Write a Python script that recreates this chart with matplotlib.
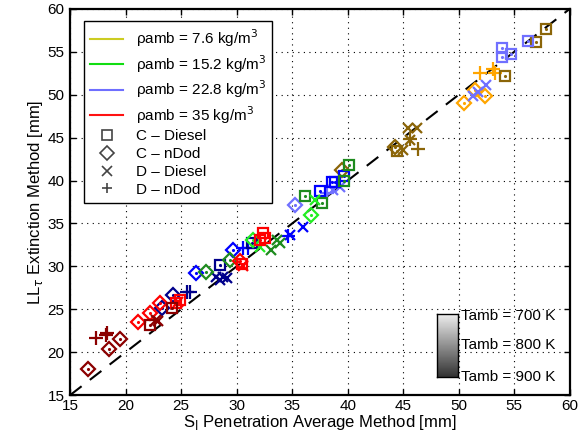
import numpy as np
import matplotlib
matplotlib.use('Agg')
import matplotlib.pyplot as plt
from matplotlib.lines import Line2D

plt.rcParams['font.family'] = ['Liberation Sans', 'DejaVu Sans']
plt.rcParams['font.size'] = 11

# each row: density, temperature, setup, x values (S_l), y values (LL_tau)
rho = [7.6, 7.6, 7.6, 7.6, 7.6, 7.6,
       22.8, 22.8, 22.8, 22.8, 22.8, 22.8, 22.8, 22.8, 22.8, 22.8, 22.8, 22.8,
       15.2, 15.2, 15.2, 15.2, 15.2,
       35, 35, 35, 35, 35, 35, 35]
tamb = [700, 700, 800, 800, 800, 800,
        700, 700, 700, 700, 800, 800, 800, 800, 900, 900, 900, 900,
        800, 700, 800, 700, 800,
        700, 700, 700, 900, 900, 900, 900]
setup = ['C-nDod', 'D-nDod', 'C-Diesel', 'C-nDod', 'D-Diesel', 'D-nDod',
         'C-Diesel', 'D-Diesel', 'D-nDod', 'C-nDod', 'C-Diesel', 'D-Diesel', 'D-nDod', 'C-nDod',
         'C-Diesel', 'D-Diesel', 'D-nDod', 'C-nDod',
         'C-Diesel', 'C-nDod', 'C-nDod', 'D-Diesel', 'D-Diesel',
         'C-Diesel', 'C-nDod', 'D-Diesel', 'C-Diesel', 'D-Diesel', 'C-nDod', 'D-nDod']
sl = [[50.5, 51.5, 52.4], [51.9, 53.1, 53.3], [54.2, 57.0, 57.9, 44.4], [44.3, 39.5],
      [45.4, 46.2, 45.0, 45.6], [45.6, 46.3],
      [53.9, 53.9, 54.7, 56.2], [51.3, 51.7, 52.5, 38.7, 39.3], [38.1], [35.3],
      [39.7, 38.9, 38.6, 37.5], [36.0, 34.8], [34.6, 30.6, 31.0], [29.7, 26.3],
      [31.4, 28.5], [28.1, 28.5, 29.1, 28.8], [25.5, 25.8], [24.3, 23.3],
      [36.2, 37.7, 39.7, 40.1], [36.7, 31.5], [29.4, 27.2], [37.1, 32.1], [33.9, 33.1, 33.6],
      [32.4, 32.6, 32.1, 30.5, 24.9, 24.5], [30.3, 23.1, 22.2, 21.1], [30.6, 24.7],
      [24.2, 22.2], [22.7, 22.9], [16.6, 18.5, 19.5], [17.3, 18.2, 18.3]]
ll = [[49.0, 50.6, 49.9], [52.5, 53.0, 52.5], [52.2, 56.2, 57.7, 43.4], [43.9, 41.2],
      [46.1, 46.1, 43.6, 44.7], [44.9, 43.7],
      [55.5, 54.4, 54.8, 56.3], [49.9, 50.3, 51.1, 38.9, 39.3], [38.6], [37.2],
      [40.5, 39.8, 39.8, 38.8], [34.6, 33.7], [33.6, 32.1, 32.2], [31.9, 29.2],
      [32.7, 30.2], [28.8, 28.4, 28.6, 28.8], [27.0, 27.0], [26.7, 25.2],
      [38.2, 37.4, 40.0, 41.8], [36.0, 33.1], [30.7, 29.3], [37.7, 32.3], [32.7, 31.9, 33.1],
      [33.9, 33.3, 33.1, 30.3, 26.1, 25.7], [30.6, 25.7, 24.6, 23.5], [30.1, 25.9],
      [25.2, 23.2], [23.8, 23.6], [18.0, 20.4, 21.5], [21.7, 22.0, 22.2]]

colors = {(7.6, 700): '#FFA500', (7.6, 800): '#8B6508',
          (15.2, 700): '#22EE22', (15.2, 800): '#1E8B1E',
          (22.8, 700): '#7070FF', (22.8, 800): '#0000FF', (22.8, 900): '#00008B',
          (35, 700): '#FF0000', (35, 900): '#8B0000'}
markers = {'C-Diesel': 's', 'C-nDod': 'D', 'D-Diesel': 'x', 'D-nDod': '+'}
msize = {'s': 7, 'D': 7.5, 'x': 7.5, '+': 9.5}

fig = plt.figure(figsize=(5.79, 4.46), dpi=100)
ax = fig.add_axes([0.121, 0.114, 0.863, 0.866])

ax.plot([15, 60], [15, 60], color='black', ls=(0, (7, 5)), lw=1.5, zorder=1)

for r, t, s, xs, ys in zip(rho, tamb, setup, sl, ll):
    c = colors[(r, t)]
    m = markers[s]
    ax.plot(xs, ys, ls='none', marker=m, ms=msize[m], mfc='none', mec=c, mew=1.6, zorder=3)
    if m in 'sD':
        ax.plot(xs, ys, ls='none', marker='.', ms=2.5, color=c, zorder=3)

ax.set_xlim(15, 60)
ax.set_ylim(15, 60)
ax.set_xticks(np.arange(15, 61, 5))
ax.set_yticks(np.arange(15, 61, 5))
ax.grid(True, color='black', ls=(0, (1, 4)), lw=0.8)
ax.tick_params(direction='in', length=4, width=1, top=True, right=True, labelsize=11)
ax.tick_params(axis='x', pad=3)
ax.tick_params(axis='y', pad=4)
for sp in ax.spines.values():
    sp.set_linewidth(1.6)
ax.set_xlabel(r'S$_{\rm l}$ Penetration Average Method [mm]', fontsize=12, labelpad=0)
ax.set_ylabel(r'LL$_{\tau}$ Extinction Method [mm]', fontsize=12, labelpad=2)

handles = [Line2D([], [], color='#CCCC22', lw=1.5),
           Line2D([], [], color='#11DD11', lw=1.5),
           Line2D([], [], color='#6F6FFF', lw=1.5),
           Line2D([], [], color='#FF1111', lw=1.5)]
labels = ['\u03c1amb = 7.6 kg/m$^3$', '\u03c1amb = 15.2 kg/m$^3$',
          '\u03c1amb = 22.8 kg/m$^3$', '\u03c1amb = 35 kg/m$^3$']
for s in ['C-Diesel', 'C-nDod', 'D-Diesel', 'D-nDod']:
    handles.append(Line2D([], [], ls='none', marker=markers[s], ms=7, mfc='none',
                          mec='#444444', mew=1.2))
    labels.append(s.replace('-', ' \u2013 '))
leg = ax.legend(handles, labels, loc='upper left', bbox_to_anchor=(0.012, 0.988),
                fontsize=11, fancybox=False, edgecolor='black', framealpha=1,
                handlelength=2.2, labelspacing=0.25, borderpad=0.4)
leg.get_frame().set_linewidth(1.0)

# temperature shade bar
cax = fig.add_axes([0.755, 0.155, 0.036, 0.141])
grad = np.linspace(0.93, 0.2, 100).reshape(-1, 1)
cax.imshow(grad, cmap='gray', vmin=0, vmax=1, aspect='auto')
cax.set_xticks([])
cax.set_yticks([])
for sp in cax.spines.values():
    sp.set_linewidth(1.0)
for lab, yy in zip(['Tamb = 700 K', 'Tamb = 800 K', 'Tamb = 900 K'], [0.291, 0.226, 0.155]):
    fig.text(0.797, yy, lab, fontsize=11, va='center', ha='left')

fig.savefig('out.png', dpi=100)
